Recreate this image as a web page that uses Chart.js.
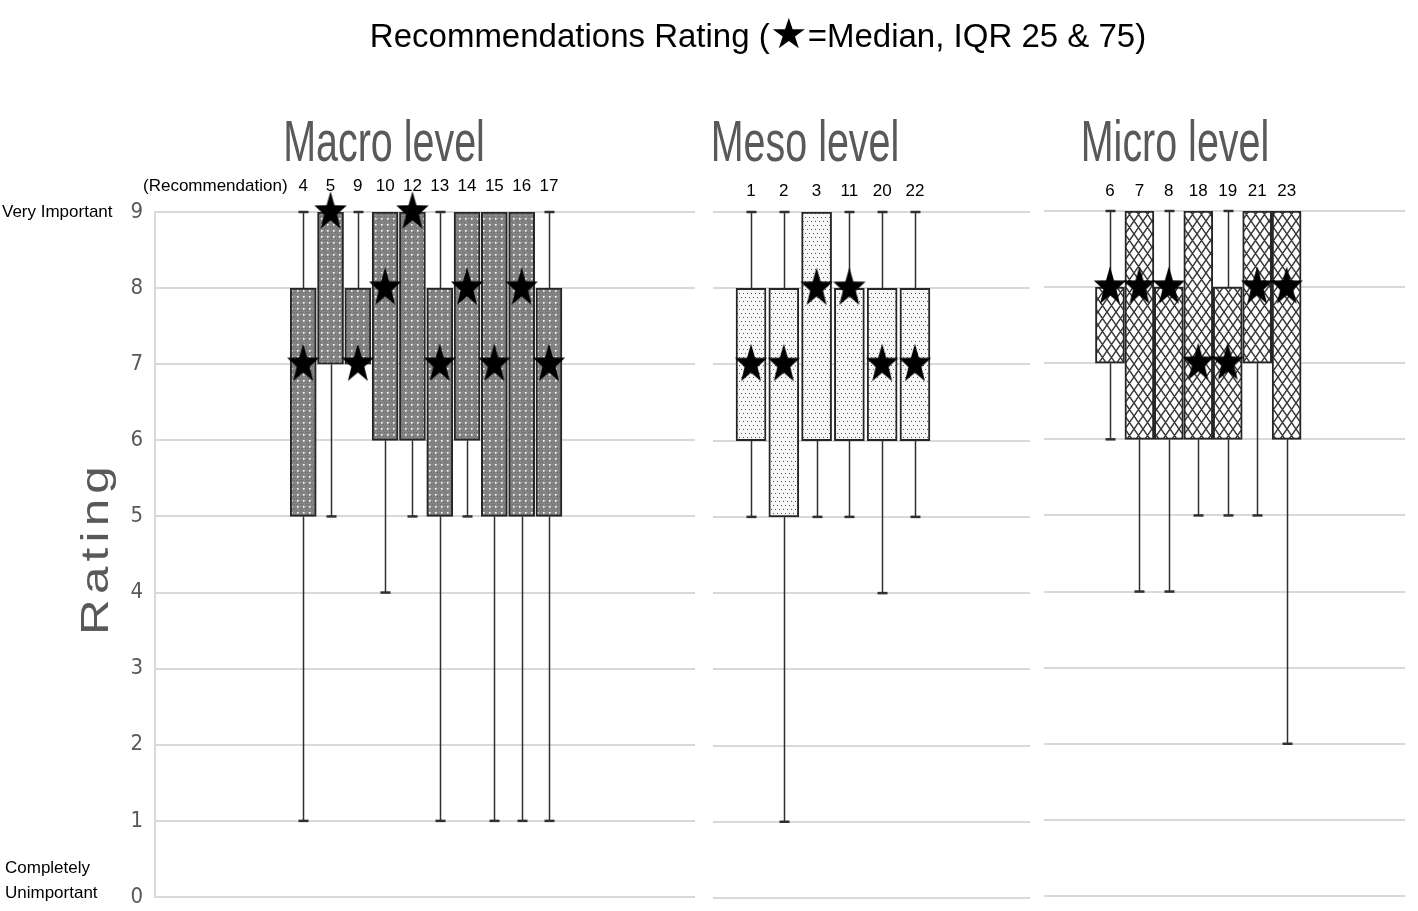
<!DOCTYPE html>
<html>
<head>
<meta charset="utf-8">
<script src="https://cdn.jsdelivr.net/npm/chart.js@4.4.1/dist/chart.umd.min.js"></script>
<style>
  body { margin: 0; background: #fff; }
  #page { position: relative; width: 1418px; height: 911px; overflow: hidden; font-family: "Liberation Sans", Arial, sans-serif; }
  #page canvas { position: absolute; left: 0; top: 0; }
  .txt { position: absolute; white-space: nowrap; color: #000; }
  .small { font-size: 17px; line-height: 20px; }
  .panelTitle { font-size: 58px; line-height: 58px; color: #595959; transform: translate(-50%, -50%) scaleX(0.68); }
  #title { left: 758px; top: 16px; font-size: 33px; line-height: 40px; transform: translateX(-50%); }
  #title .star { font-size: 42px; line-height: 0; position: relative; top: 1px; }
  #rating { left: 95px; top: 548px; font-size: 38px; line-height: 40px; letter-spacing: 4px; color: #595959;
            transform: translate(-50%, -50%) rotate(-90deg) scaleX(1.3); }
</style>
</head>
<body>
<div id="page">
  <canvas id="macroChart" width="1418" height="960"></canvas>
  <canvas id="mesoChart" width="1418" height="960"></canvas>
  <canvas id="microChart" width="1418" height="960"></canvas>

  <div class="txt" id="title">Recommendations Rating (<span class="star">★</span>=Median, IQR 25 &amp; 75)</div>
  <div class="txt panelTitle" style="left:384px; top:141px;">Macro level</div>
  <div class="txt panelTitle" style="left:805px; top:141px;">Meso level</div>
  <div class="txt panelTitle" style="left:1175px; top:141px;">Micro level</div>
  <div class="txt small" style="left:143px; top:176px;">(Recommendation)</div>
  <div class="txt small" style="left:2px; top:202px;">Very Important</div>
  <div class="txt small" style="left:5px; top:858px;">Completely</div>
  <div class="txt small" style="left:5px; top:883px;">Unimportant</div>
  <div class="txt" id="rating">Rating</div>
</div>

<script>
// rating scale shown on the y axis
const ratingTicks = [0, 1, 2, 3, 4, 5, 6, 7, 8, 9];

// Macro level: recommendation number, whisker ends, IQR and median
const macroLabels = ['4', '5', '9', '10', '12', '13', '14', '15', '16', '17'];
const macroMin    = [1, 5, 7, 4, 5, 1, 5, 1, 1, 1];
const macroQ1     = [5, 7, 7, 6, 6, 5, 6, 5, 5, 5];
const macroMedian = [7, 9, 7, 8, 9, 7, 8, 7, 8, 7];
const macroQ3     = [8, 9, 8, 9, 9, 8, 9, 9, 9, 8];
const macroMax    = [9, 9, 9, 9, 9, 9, 9, 9, 9, 9];

// Meso level
const mesoLabels = ['1', '2', '3', '11', '20', '22'];
const mesoMin    = [5, 1, 5, 5, 4, 5];
const mesoQ1     = [6, 5, 6, 6, 6, 6];
const mesoMedian = [7, 7, 8, 8, 7, 7];
const mesoQ3     = [8, 8, 9, 8, 8, 8];
const mesoMax    = [9, 9, 9, 9, 9, 9];

// Micro level
const microLabels = ['6', '7', '8', '18', '19', '21', '23'];
const microMin    = [6, 4, 4, 5, 5, 5, 2];
const microQ1     = [7, 6, 6, 6, 6, 7, 6];
const microMedian = [8, 8, 8, 7, 7, 8, 8];
const microQ3     = [8, 9, 8, 9, 8, 9, 9];
const microMax    = [9, 9, 9, 9, 9, 9, 9];

const narrowFont = "'Liberation Sans Narrow', 'DejaVu Sans Condensed', 'Liberation Sans', sans-serif";
const canvasW = 1418, canvasH = 960;

// small tile -> repeating fill for the boxes
function makePattern(ctx, w, h, draw) {
    let tile = document.createElement('canvas');
    tile.width = w;
    tile.height = h;
    draw(tile.getContext('2d'), w, h);
    return ctx.createPattern(tile, 'repeat');
}

// filled five point star, a bit taller than wide like the original
function makeStar(r, sy) {
    let c = document.createElement('canvas');
    c.width = Math.ceil(r * 2) + 2;
    c.height = Math.ceil(r * 2 * sy) + 2;
    let g = c.getContext('2d');
    g.translate(c.width / 2, c.height / 2);
    g.scale(1, sy);
    g.beginPath();
    for (let k = 0; k < 10; k++) {
        let rad = k % 2 ? r * 0.4 : r;
        let a = -Math.PI / 2 + k * Math.PI / 5;
        g.lineTo(rad * Math.cos(a), rad * Math.sin(a));
    }
    g.closePath();
    g.fillStyle = '#000';
    g.fill();
    return c;
}
const starImg = makeStar(17, 1.22);

// whiskers + caps, drawn under the boxes
function whiskers(min, q1, q3, max) {
    return {
        id: 'whiskers',
        beforeDatasetsDraw(chart) {
            let ctx = chart.ctx;
            let x = chart.scales.x, y = chart.scales.y;
            ctx.save();
            ctx.strokeStyle = '#303030';
            for (let i = 0; i < min.length; i++) {
                let px = Math.round(x.getPixelForValue(i)) + 0.5;
                let parts = [[q3[i], max[i]], [min[i], q1[i]]];
                parts.forEach(function (p) {
                    if (p[0] === p[1]) return;
                    ctx.lineWidth = 1.5;
                    ctx.beginPath();
                    ctx.moveTo(px, y.getPixelForValue(p[0]));
                    ctx.lineTo(px, y.getPixelForValue(p[1]));
                    ctx.stroke();
                });
                ctx.lineWidth = 2.5;
                if (max[i] !== q3[i]) {
                    ctx.beginPath();
                    ctx.moveTo(px - 5, y.getPixelForValue(max[i]));
                    ctx.lineTo(px + 5, y.getPixelForValue(max[i]));
                    ctx.stroke();
                }
                if (min[i] !== q1[i]) {
                    ctx.beginPath();
                    ctx.moveTo(px - 5, y.getPixelForValue(min[i]));
                    ctx.lineTo(px + 5, y.getPixelForValue(min[i]));
                    ctx.stroke();
                }
            }
            ctx.restore();
        }
    };
}

// one panel; area = chart area in page pixels
function drawPanel(id, labels, min, q1, median, q3, max, fill, area) {
    let ctx = document.getElementById(id).getContext('2d');
    let yWidth = area.showY ? area.left : 0;
    let xHeight = 60;
    return new Chart(ctx, {
        type: 'bar',
        data: {
            datasets: [{
                type: 'scatter',
                order: 0,
                data: median.map(function (v, i) { return { x: i, y: v }; }),
                pointStyle: starImg,
                pointRadius: 12,
                clip: false
            }, {
                type: 'bar',
                order: 1,
                data: q1.map(function (v, i) { return { x: i, y: [v, q3[i]] }; }),
                backgroundColor: fill(ctx),
                borderColor: '#262626',
                borderWidth: 2,
                borderSkipped: false,
                barThickness: area.bar,
                grouped: false
            }]
        },
        options: {
            responsive: false,
            animation: false,
            events: [],
            layout: {
                padding: {
                    left: area.showY ? 0 : area.left,
                    right: canvasW - area.right,
                    top: area.top - xHeight,
                    bottom: canvasH - area.bottom
                }
            },
            plugins: {
                legend: { display: false },
                tooltip: { enabled: false }
            },
            scales: {
                x: {
                    type: 'linear',
                    position: 'top',
                    offset: false,
                    min: area.min,
                    max: area.max,
                    grid: { display: false, offset: false },
                    border: { display: false },
                    afterBuildTicks: function (s) { s.ticks = labels.map(function (l, i) { return { value: i }; }); },
                    afterFit: function (s) { s.height = xHeight; },
                    ticks: {
                        autoSkip: false,
                        maxRotation: 0,
                        padding: area.tickPad,
                        color: '#000',
                        font: { size: 17, family: "'Liberation Sans', sans-serif" },
                        callback: function (v) { return labels[v]; }
                    }
                },
                y: {
                    min: 0,
                    max: 9,
                    afterBuildTicks: function (s) { s.ticks = ratingTicks.map(function (v) { return { value: v }; }); },
                    afterFit: function (s) { s.width = yWidth; },
                    grid: { color: '#d9d9d9', lineWidth: 2, drawTicks: false },
                    border: { display: area.showY, color: '#d9d9d9', width: 2 },
                    ticks: {
                        display: area.showY,
                        padding: 12,
                        color: '#595959',
                        font: { size: 22, family: narrowFont }
                    }
                }
            }
        },
        plugins: [whiskers(min, q1, q3, max)]
    });
}

// macro: mid grey with white dots
function macroFill(ctx) {
    return makePattern(ctx, 6, 6, function (g, w, h) {
        g.fillStyle = '#858585';
        g.fillRect(0, 0, w, h);
        g.fillStyle = '#6a6a6a';
        g.fillRect(0, 0, 1, 1);
        g.fillRect(2, 0, 1, 1);
        g.fillRect(1, 4, 1, 1);
        g.fillRect(5, 4, 1, 1);
        g.fillStyle = '#ffffff';
        g.fillRect(3, 2, 1.6, 1.6);
    });
}

// meso: light with small dark dots
function mesoFill(ctx) {
    return makePattern(ctx, 8, 8, function (g, w, h) {
        g.fillStyle = '#f7f7f7';
        g.fillRect(0, 0, w, h);
        g.fillStyle = '#555555';
        g.fillRect(1, 1, 1, 1);
        g.fillRect(5, 1, 1, 1);
        g.fillRect(3, 5, 1, 1);
        g.fillRect(7, 5, 1, 1);
    });
}

// micro: diamond lattice
function microFill(ctx) {
    return makePattern(ctx, 9, 13, function (g, w, h) {
        g.fillStyle = '#ffffff';
        g.fillRect(0, 0, w, h);
        g.strokeStyle = '#3a3a3a';
        g.lineWidth = 1.5;
        g.beginPath();
        g.moveTo(0, 0); g.lineTo(w, h);
        g.moveTo(w, 0); g.lineTo(0, h);
        g.moveTo(-w, 0); g.lineTo(w, 2 * h);
        g.moveTo(2 * w, 0); g.lineTo(0, 2 * h);
        g.moveTo(0, -h); g.lineTo(2 * w, h);
        g.moveTo(w, -h); g.lineTo(-w, h);
        g.stroke();
    });
}

drawPanel('macroChart', macroLabels, macroMin, macroQ1, macroMedian, macroQ3, macroMax, macroFill,
    { left: 155, right: 695, top: 212, bottom: 897, min: -5.43, max: 14.35, bar: 26, tickPad: 7, showY: true });

drawPanel('mesoChart', mesoLabels, mesoMin, mesoQ1, mesoMedian, mesoQ3, mesoMax, mesoFill,
    { left: 713, right: 1030, top: 212, bottom: 898, min: -1.16, max: 8.51, bar: 30, tickPad: 2, showY: false });

drawPanel('microChart', microLabels, microMin, microQ1, microMedian, microQ3, microMax, microFill,
    { left: 1044, right: 1415, top: 211, bottom: 896, min: -2.24, max: 10.02, bar: 29, tickPad: 1, showY: false });
</script>
</body>
</html>
